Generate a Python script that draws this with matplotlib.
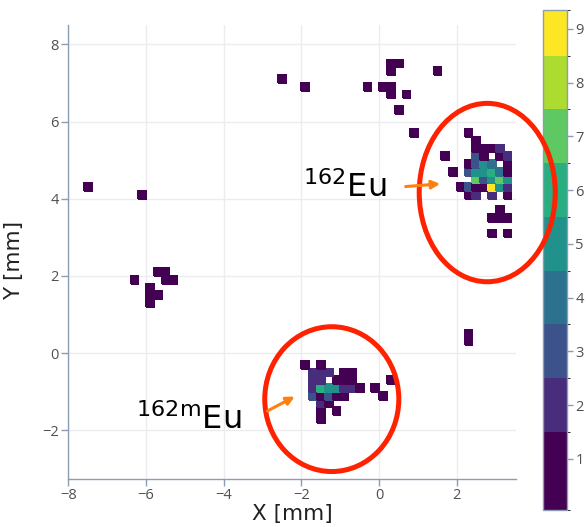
# -*- coding: utf-8 -*-
"""
2D hit map of Eu isotopes (162Eu / 162mEu) on the detector plane
"""

import numpy as np
import matplotlib
matplotlib.use("Agg")
import matplotlib.pyplot as plt
from matplotlib.colors import ListedColormap, BoundaryNorm
from matplotlib.patches import Ellipse

# hit cells: centre X [mm], centre Y [mm], counts
# left / top scattered hits
x_scatter = [-7.5, -6.1, -6.3, -5.7, -5.5, -5.5, -5.3, -5.9, -5.9, -5.7, -5.9,
             -2.5, -1.9, -0.3, 0.1, 0.3, 0.3, 0.7, 0.3, 0.5, 0.3, 1.5, 0.5, 0.9,
             2.3, 2.3]
y_scatter = [4.3, 4.1, 1.9, 2.1, 2.1, 1.9, 1.9, 1.7, 1.5, 1.5, 1.3,
             7.1, 6.9, 6.9, 6.9, 6.9, 6.7, 6.7, 7.5, 7.5, 7.3, 7.3, 6.3, 5.7,
             0.5, 0.3]
c_scatter = [1] * len(x_scatter)

# 162Eu cluster
x_eu = [2.3, 2.5,
        2.5, 2.7, 2.9, 3.1,
        1.7, 2.5, 2.7, 3.1, 3.3,
        2.3, 2.5, 2.7, 2.9, 3.3,
        1.9, 2.3, 2.5, 2.7, 2.9, 3.1, 3.3,
        2.5, 2.7, 2.9, 3.1, 3.3,
        2.1, 2.3, 2.5, 2.7, 2.9, 3.1, 3.3,
        2.3, 2.5, 2.9, 3.3,
        3.1, 2.9, 3.1, 3.3, 2.9, 3.3]
y_eu = [5.7, 5.5,
        5.3, 5.3, 5.3, 5.3,
        5.1, 5.1, 5.1, 5.1, 5.1,
        4.9, 4.9, 4.9, 4.9, 4.9,
        4.7, 4.7, 4.7, 4.7, 4.7, 4.7, 4.7,
        4.5, 4.5, 4.5, 4.5, 4.5,
        4.3, 4.3, 4.3, 4.3, 4.3, 4.3, 4.3,
        4.1, 4.1, 4.1, 4.1,
        3.7, 3.5, 3.5, 3.5, 3.1, 3.1]
c_eu = [1, 1,
        1, 1, 1, 2,
        1, 3, 1, 1, 2,
        1, 3, 5, 4, 1,
        1, 3, 5, 5, 6, 4, 1,
        7, 3, 5, 7, 5,
        1, 3, 1, 1, 9, 5, 2,
        1, 2, 2, 1,
        1, 1, 1, 1, 1, 1]

# 162mEu cluster
x_eum = [-1.9, -1.5,
         -1.7, -1.5, -1.3, -0.9, -0.7,
         -1.7, -1.5, -1.1, -0.9, -0.7, 0.3,
         -1.7, -1.5, -1.3, -1.1, -0.9, -0.7, -0.5, -0.1,
         -1.7, -1.5, -1.3, -1.1, -0.9, 0.1,
         -1.5, -1.3, -1.5, -1.1, -1.5]
y_eum = [-0.3, -0.3,
         -0.5, -0.5, -0.5, -0.5, -0.5,
         -0.7, -0.7, -0.7, -0.7, -0.7, -0.7,
         -0.9, -0.9, -0.9, -0.9, -0.9, -0.9, -0.9, -0.9,
         -1.1, -1.1, -1.1, -1.1, -1.1, -1.1,
         -1.3, -1.3, -1.5, -1.5, -1.7]
c_eum = [1, 1,
         2, 2, 2, 1, 1,
         2, 2, 1, 1, 1, 1,
         2, 6, 5, 5, 2, 2, 1, 1,
         3, 1, 3, 1, 1, 1,
         2, 1, 1, 1, 1]

cbar_ticks = [1, 2, 3, 4, 5, 6, 7, 8, 9]

# 2Dヒストグラム
x_all = np.array(x_scatter + x_eu + x_eum)
y_all = np.array(y_scatter + y_eu + y_eum)
w_all = np.array(c_scatter + c_eu + c_eum, dtype=float)

x_edges = np.round(np.arange(-40, 19) * 0.2, 3)
y_edges = np.round(np.arange(-17, 44) * 0.2, 3)
H, _, _ = np.histogram2d(x_all, y_all, bins=[x_edges, y_edges], weights=w_all)
H = np.ma.masked_equal(H.T, 0)

cmap = ListedColormap(plt.get_cmap("viridis")(np.linspace(0, 1, 9)))
bounds = [0.05, 1.5, 2.5, 3.5, 4.5, 5.5, 6.5, 7.5, 8.5, 9.35]
norm = BoundaryNorm(bounds, 9)

axcol = "#8c9db3"
gridcol = "#ececf0"
tickcol = "#505050"

fig = plt.figure(figsize=(5.86, 5.27), dpi=100)
ax = fig.add_axes([0.1166, 0.0917, 0.7639, 0.8609])
cax = fig.add_axes([0.9266, 0.0323, 0.041, 0.9488])
ax.set_zorder(3)   # 円をカラーバーの上に描く

mesh = ax.pcolormesh(x_edges, y_edges, H, cmap=cmap, norm=norm,
                     edgecolors="face", linewidth=0.3, zorder=2)

ax.set_xlim(-8, 3.52)
ax.set_ylim(-3.25, 8.5)
ax.set_xticks([-8, -6, -4, -2, 0, 2])
ax.set_yticks([-2, 0, 2, 4, 6, 8])
ax.grid(True, color=gridcol, lw=1.0, zorder=0)
ax.set_axisbelow(True)
for s in ["top", "right"]:
    ax.spines[s].set_visible(False)
for s in ["left", "bottom"]:
    ax.spines[s].set_color(axcol)
    ax.spines[s].set_linewidth(1.0)
ax.tick_params(direction="out", length=5, width=1, color=axcol, pad=2,
               labelsize=10.5, labelcolor=tickcol)
for lab in ax.get_xticklabels() + ax.get_yticklabels():
    lab.set_family(["Open Sans", "DejaVu Sans"])

ax.set_xlabel("X [mm]", fontsize=15.5, color="#222222")
ax.set_ylabel("Y [mm]", fontsize=15.5, color="#222222")
ax.xaxis.set_label_coords(0.5, -0.055)
ax.yaxis.set_label_coords(-0.100, 0.48)

# 赤い円
ax.add_patch(Ellipse((2.78, 4.16), 3.50, 4.62, fill=False, ec="#ff2200",
                     lw=3.6, zorder=4, clip_on=False))
ax.add_patch(Ellipse((-1.22, -1.19), 3.45, 3.75, fill=False, ec="#ff2200",
                     lw=3.6, zorder=4, clip_on=False))

# ラベルと矢印
ax.text(-1.96, 4.05, r"$^{162}\mathrm{Eu}$", fontsize=23, ha="left",
        va="baseline", zorder=5)
ax.text(-6.26, -1.97, r"$^{162\mathrm{m}}\mathrm{Eu}$", fontsize=23, ha="left",
        va="baseline", zorder=5)
ax.annotate("", xy=(1.64, 4.39), xytext=(0.61, 4.31),
            arrowprops=dict(arrowstyle="-|>", color="#ff7f0e", lw=2.2,
                            mutation_scale=12), zorder=5)
ax.annotate("", xy=(-2.11, -1.09), xytext=(-2.94, -1.53),
            arrowprops=dict(arrowstyle="-|>", color="#ff7f0e", lw=2.2,
                            mutation_scale=12), zorder=5)

cbar = fig.colorbar(mesh, cax=cax, boundaries=bounds, ticks=cbar_ticks,
                    spacing="proportional")
cbar.outline.set_edgecolor(axcol)
cbar.outline.set_linewidth(1.0)
cbar.ax.tick_params(direction="out", length=4, width=1, color=axcol, pad=2,
                    labelsize=10.5, labelcolor=tickcol)
for lab in cbar.ax.get_yticklabels():
    lab.set_family(["Open Sans", "DejaVu Sans"])

plt.savefig("out.png", dpi=100)
